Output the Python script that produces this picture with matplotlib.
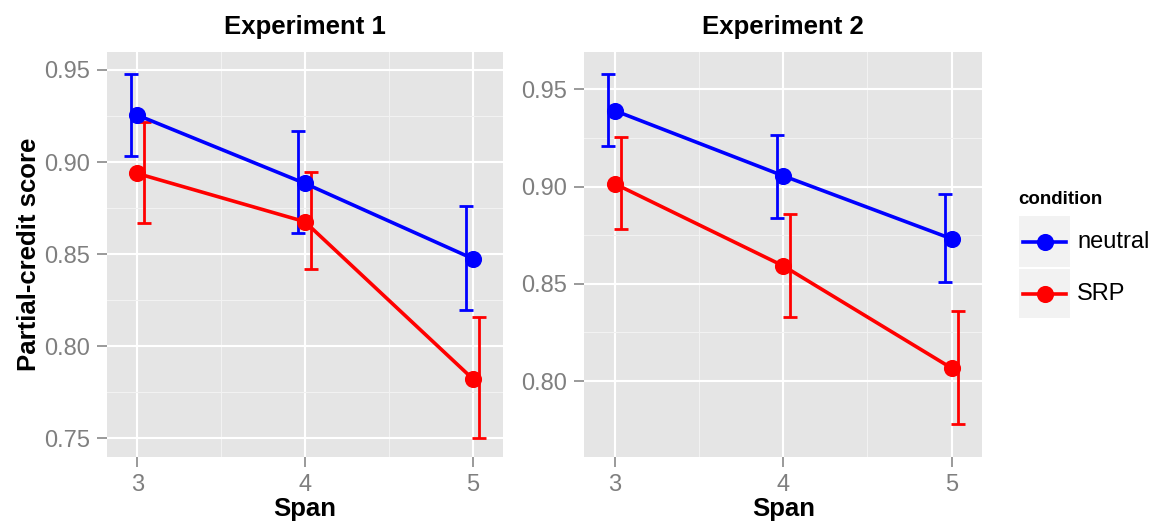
import numpy as np
import matplotlib
matplotlib.use("Agg")
import matplotlib.pyplot as plt
from matplotlib.patches import Rectangle
from matplotlib.lines import Line2D

plt.rcParams["font.family"] = ["Liberation Sans", "DejaVu Sans"]

span = [3, 4, 5]
conditions = ["neutral", "SRP"]
colors = {"neutral": "#0000FF", "SRP": "#FF0000"}

# Experiment 1: mean, lower, upper
exp1_neutral = [0.9255, 0.8884, 0.8476]
exp1_neutral_lo = [0.9031, 0.8616, 0.8196]
exp1_neutral_hi = [0.9477, 0.9170, 0.8763]
exp1_srp = [0.8938, 0.8676, 0.7824]
exp1_srp_lo = [0.8667, 0.8417, 0.7504]
exp1_srp_hi = [0.9219, 0.8944, 0.8160]

# Experiment 2
exp2_neutral = [0.9390, 0.9055, 0.8731]
exp2_neutral_lo = [0.9209, 0.8840, 0.8508]
exp2_neutral_hi = [0.9577, 0.9267, 0.8961]
exp2_srp = [0.9014, 0.8592, 0.8066]
exp2_srp_lo = [0.8782, 0.8330, 0.7779]
exp2_srp_hi = [0.9254, 0.8861, 0.8362]

panels = [
    ("Experiment 1", {"neutral": (exp1_neutral, exp1_neutral_lo, exp1_neutral_hi),
                      "SRP": (exp1_srp, exp1_srp_lo, exp1_srp_hi)},
     (0.740, 0.9599), [0.75, 0.80, 0.85, 0.90, 0.95]),
    ("Experiment 2", {"neutral": (exp2_neutral, exp2_neutral_lo, exp2_neutral_hi),
                      "SRP": (exp2_srp, exp2_srp_lo, exp2_srp_hi)},
     (0.7611, 0.9693), [0.80, 0.85, 0.90, 0.95]),
]
dodge = {"neutral": -0.038, "SRP": 0.038}

fig = plt.figure(figsize=(11.58, 5.27), dpi=100)
axes = [fig.add_axes([0.0924, 0.1334, 0.3417, 0.7685]),
        fig.add_axes([0.5047, 0.1334, 0.3433, 0.7685])]

for ax, (title, data, ylim, yticks) in zip(axes, panels):
    ax.set_facecolor("#E5E5E5")
    for s in ax.spines.values():
        s.set_visible(False)
    x = np.array(span, dtype=float)
    for cond in conditions:
        m, lo, hi = (np.array(v) for v in data[cond])
        ax.errorbar(x + dodge[cond], m, yerr=[m - lo, hi - m], fmt="none",
                    ecolor=colors[cond], elinewidth=2.0, capsize=4.8,
                    capthick=2.0, zorder=3)
    for cond in conditions:
        m = data[cond][0]
        ax.plot(x, m, color=colors[cond], lw=2.6, marker="o", ms=11.3,
                zorder=4)
    ax.set_xlim(2.82, 5.18)
    ax.set_ylim(*ylim)
    ax.set_xticks(span)
    ax.set_yticks(yticks)
    ax.set_yticklabels([f"{v:.2f}" for v in yticks])
    ax.set_xticks([3.5, 4.5], minor=True)
    ymin = [v + 0.025 for v in [0.70] + yticks if ylim[0] < v + 0.025 < ylim[1]]
    ax.set_yticks(ymin, minor=True)
    ax.grid(True, which="major", color="white", lw=1.5, zorder=0)
    ax.grid(True, which="minor", color="#F2F2F2", lw=0.8, zorder=0)
    ax.set_axisbelow(True)
    ax.tick_params(which="major", length=7.5, width=1.1, color="#7F7F7F",
                   labelcolor="#7F7F7F", labelsize=17, pad=5)
    ax.tick_params(which="minor", length=0)
    ax.set_title(title, fontsize=18.5, fontweight="bold", pad=13)
    ax.set_xlabel("Span", fontsize=18.5, fontweight="bold", labelpad=1)

axes[0].set_ylabel("Partial-credit score", fontsize=18.5, fontweight="bold",
                   labelpad=2)

# legend drawn by hand, ggplot-like key boxes
W, H = 1158.0, 527.0
fig.text(1018 / W, 1 - 204 / H, "condition", fontsize=13.5, fontweight="bold",
         ha="left", va="baseline")
boxes = {"neutral": (216, 267), "SRP": (269, 318)}
for cond in conditions:
    top, bot = boxes[cond]
    fig.add_artist(Rectangle((1019 / W, 1 - bot / H), 51 / W, (bot - top) / H,
                             transform=fig.transFigure, facecolor="#F2F2F2",
                             edgecolor="none"))
    yc = 1 - (top + bot) / 2 / H
    fig.add_artist(Line2D([1023 / W, 1066 / W], [yc, yc], color=colors[cond],
                          lw=2.6, transform=fig.transFigure))
    fig.add_artist(Line2D([1045 / W], [yc], color=colors[cond], marker="o",
                          ms=11.3, transform=fig.transFigure))
    fig.text(1077 / W, yc, cond, fontsize=17, ha="left", va="center")

fig.savefig("out.png", dpi=100)
